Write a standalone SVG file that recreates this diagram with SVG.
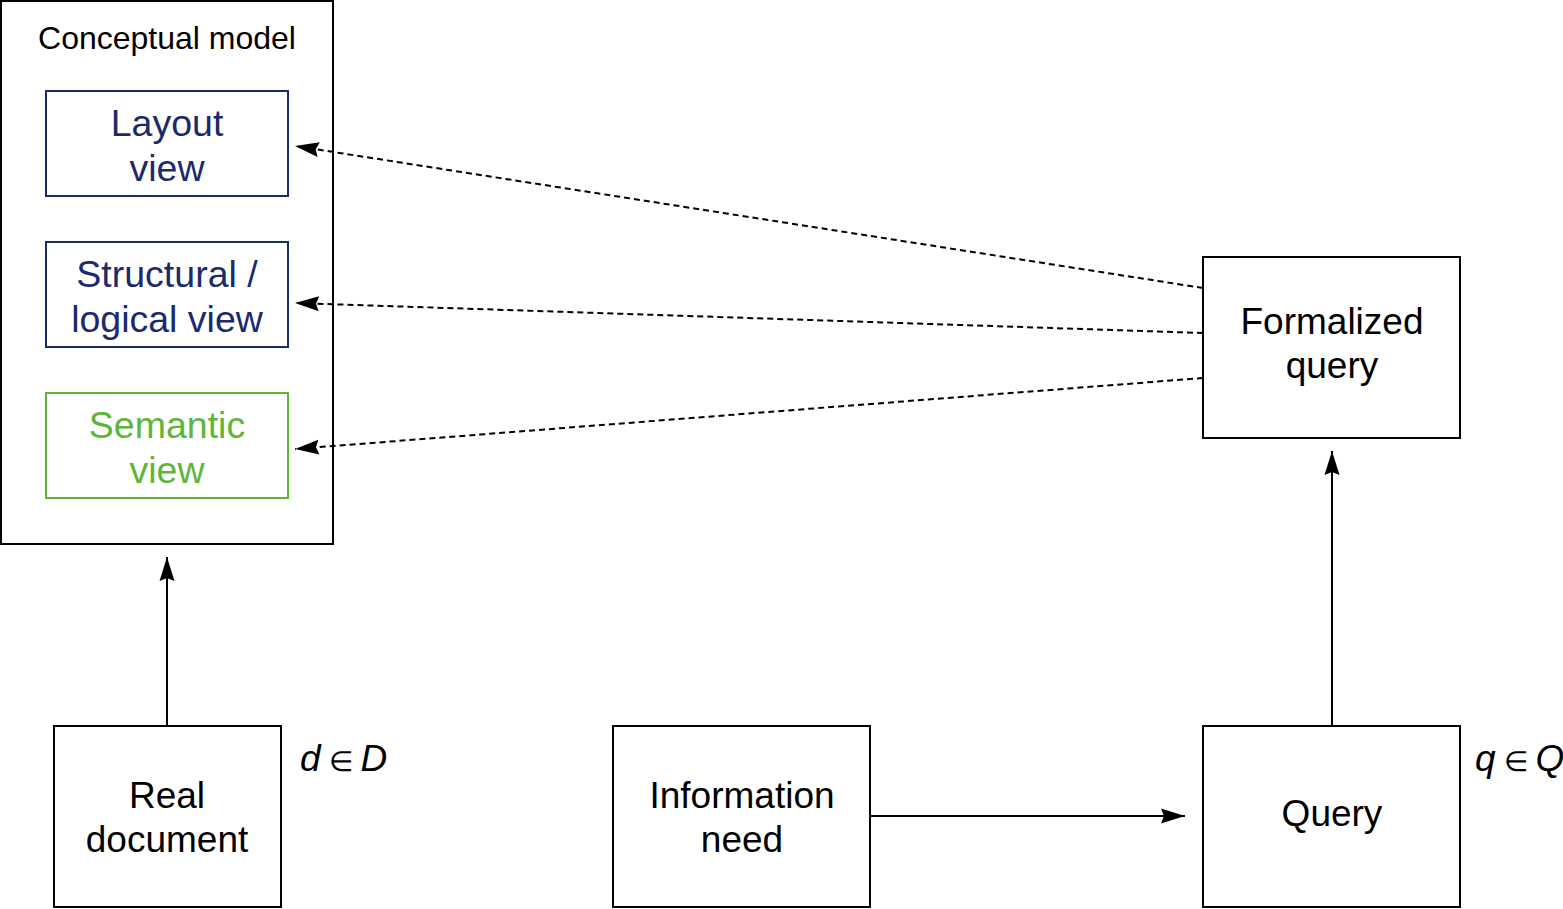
<svg xmlns="http://www.w3.org/2000/svg" width="1563" height="909" viewBox="0 0 1563 909">
<style>
text{font-family:"Liberation Sans",Arial,sans-serif;text-anchor:middle}
.box{fill:#fff;stroke:#000;stroke-width:2}
.nv{fill:#fff;stroke:#1b2a6b;stroke-width:2}
.gr{fill:#fff;stroke:#5db638;stroke-width:2}
.t{font-size:37px;fill:#000}
.tn{font-size:37.5px;fill:#1b2a6b}
.tg{font-size:37.5px;fill:#5db638}
.lbl{font-size:37px;text-anchor:start}
.conn{fill:none;stroke:#000;stroke-width:2}
.dash{stroke-dasharray:6 4}
</style>
<defs>
<marker id="ah" markerUnits="userSpaceOnUse" markerWidth="26" markerHeight="18" viewBox="-25 -9 26 18" refX="0" refY="0" orient="auto">
<path d="M0,0 L-24,-7.5 L-21,0 L-24,7.5 Z" fill="#000"/>
</marker>
</defs>
<g id="conceptual-model">
<rect class="box" x="1" y="1" width="332" height="543"/>
<text x="167" y="49" style="font-size:32px">Conceptual model</text>
</g>
<g id="layout-view">
<rect class="nv" x="46" y="91" width="242" height="105"/>
<text class="tn" x="167" y="136">Layout</text>
<text class="tn" x="167" y="181">view</text>
</g>
<g id="structural-view">
<rect class="nv" x="46" y="242" width="242" height="105"/>
<text class="tn" x="167" y="287">Structural /</text>
<text class="tn" x="167" y="332">logical view</text>
</g>
<g id="semantic-view">
<rect class="gr" x="46" y="393" width="242" height="105"/>
<text class="tg" x="167" y="438">Semantic</text>
<text class="tg" x="167" y="483">view</text>
</g>
<g id="formalized-query">
<rect class="box" x="1203" y="257" width="257" height="181"/>
<text class="t" x="1332" y="334">Formalized</text>
<text class="t" x="1332" y="378">query</text>
</g>
<g id="real-document">
<rect class="box" x="54" y="726" width="227" height="181"/>
<text class="t" x="167" y="808">Real</text>
<text class="t" x="167" y="852">document</text>
</g>
<g id="information-need">
<rect class="box" x="613" y="726" width="257" height="181"/>
<text class="t" x="742" y="808">Information</text>
<text class="t" x="742" y="852">need</text>
</g>
<g id="query">
<rect class="box" x="1203" y="726" width="257" height="181"/>
<text class="t" x="1332" y="826">Query</text>
</g>
<g id="labels">
<text class="lbl" x="300" y="771"><tspan font-style="italic">d</tspan><tspan font-size="28px" dx="8">∈</tspan><tspan font-style="italic" dx="8">D</tspan></text>
<text class="lbl" x="1475" y="771"><tspan font-style="italic">q</tspan><tspan font-size="28px" dx="8">∈</tspan><tspan font-style="italic" dx="8">Q</tspan></text>
</g>
<g id="connectors">
<line class="conn dash" x1="1203" y1="288" x2="295" y2="146" marker-end="url(#ah)"/>
<line class="conn dash" x1="1203" y1="333" x2="295" y2="303" marker-end="url(#ah)"/>
<line class="conn dash" x1="1203" y1="378" x2="295" y2="449" marker-end="url(#ah)"/>
<line class="conn" x1="167" y1="726" x2="167" y2="557" marker-end="url(#ah)"/>
<line class="conn" x1="1332" y1="726" x2="1332" y2="451" marker-end="url(#ah)"/>
<line class="conn" x1="870" y1="816" x2="1185" y2="816" marker-end="url(#ah)"/>
</g>
</svg>
